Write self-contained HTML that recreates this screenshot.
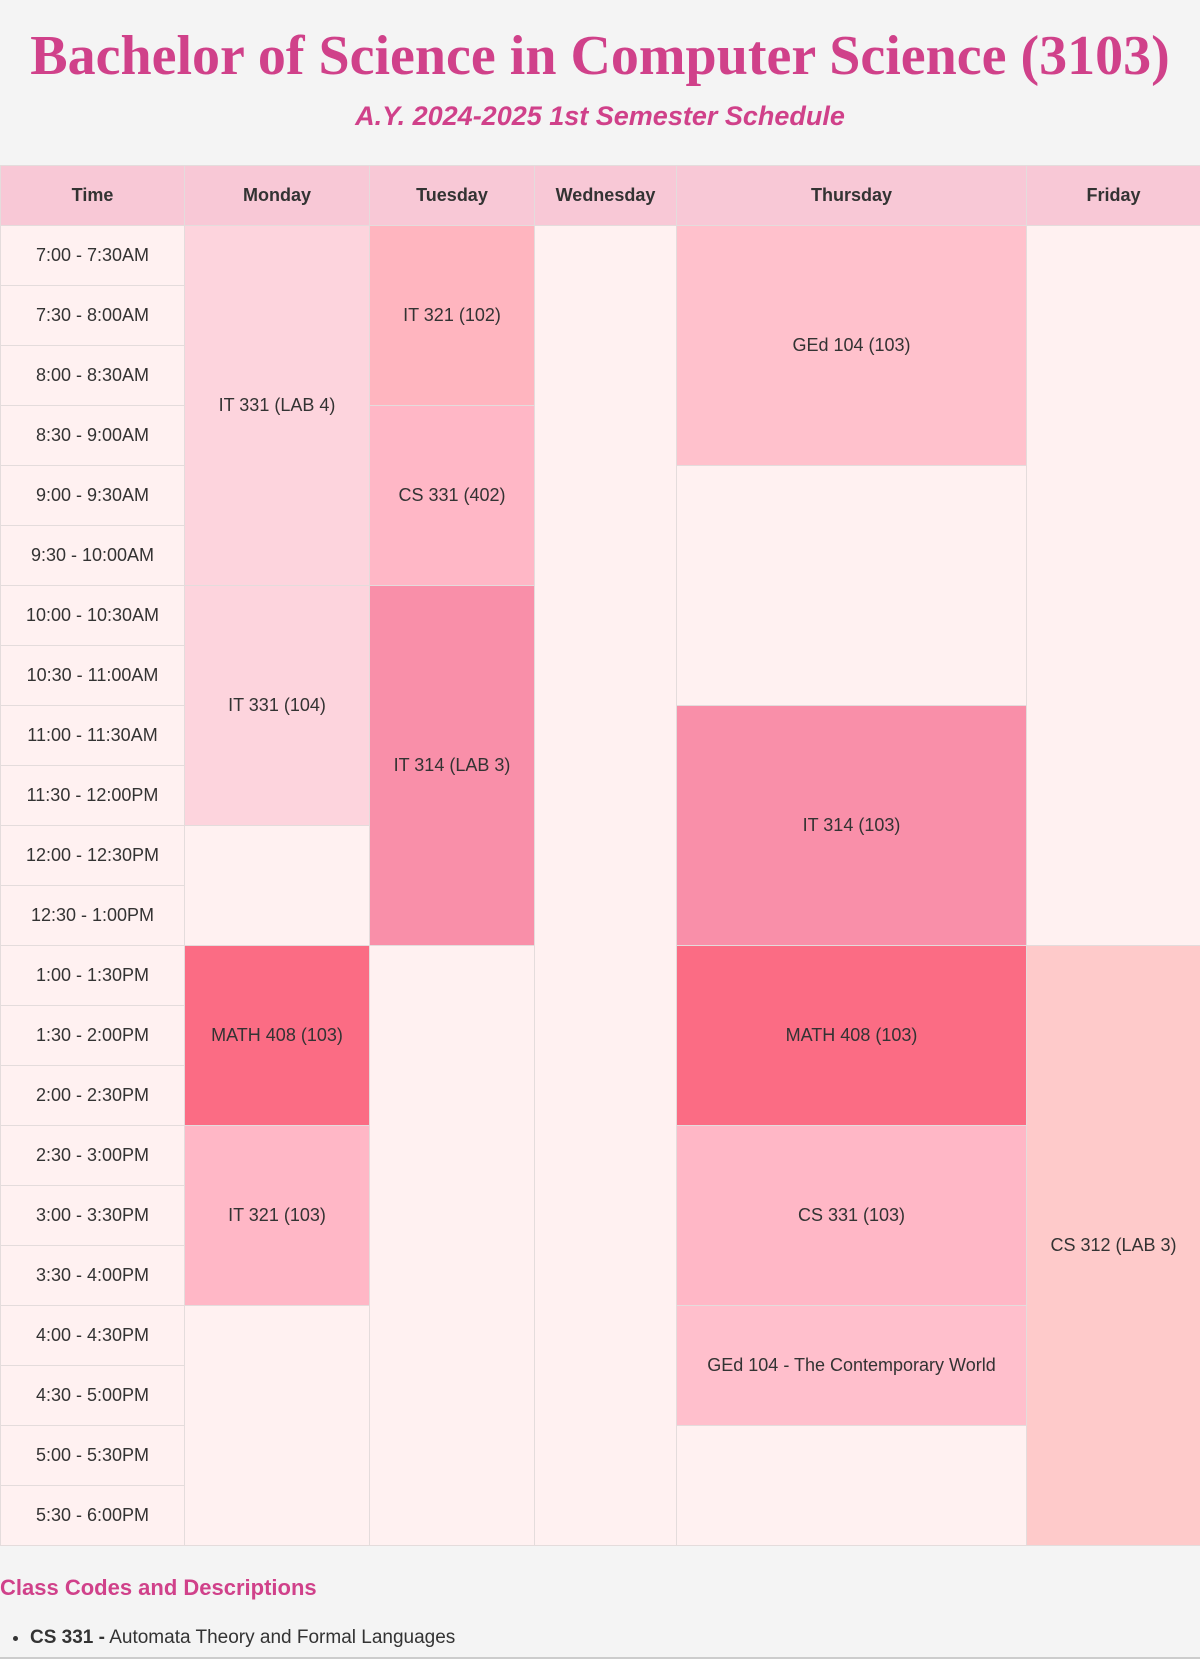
<!DOCTYPE html>
<html><head><meta charset="utf-8"><style>
body{margin:0;background:#f4f4f4;font-family:"Liberation Sans",sans-serif;color:#333;width:1200px;height:1659px;overflow:hidden;position:relative}
h1{position:absolute;top:22px;left:0;width:1200px;margin:0;text-align:center;font-family:"Liberation Serif",serif;font-weight:bold;font-size:56px;color:#d0418a;line-height:68px}
h2{position:absolute;top:98px;left:0;width:1200px;margin:0;text-align:center;font-style:italic;font-weight:bold;font-size:27px;color:#d0418a;line-height:36px}
table{position:absolute;top:165px;left:0;width:1200px;border-collapse:collapse;table-layout:fixed}
td,th{border:1px solid #e4dcdc;text-align:center;font-size:18px;padding:0}
th{height:59px;background:#f8c8d6;font-weight:bold;color:#333}
td{height:59px;background:#fff1f1}
.a{background:#fdd4dd}.b{background:#ffb5bf}.c{background:#ffb7c6}.d{background:#f98fa9}.e{background:#fb6c84}.f{background:#ffc1cc}.g{background:#fecaca}.h{background:#ffbfcc}
.cc{position:absolute;top:1575px;left:0;margin:0;font-size:22px;font-weight:bold;color:#d0418a}
ul{position:absolute;top:1626px;left:0;margin:0;padding-left:30px;font-size:19px;line-height:24px}
.bl{position:absolute;top:1657px;left:0;width:1200px;height:2px;background:#ccc}
</style></head><body>
<h1>Bachelor of Science in Computer Science (3103)</h1>
<h2>A.Y. 2024-2025 1st Semester Schedule</h2>
<table>
<colgroup><col style="width:184px"><col style="width:185px"><col style="width:165px"><col style="width:142px"><col style="width:350px"><col style="width:174px"></colgroup>
<tr><th>Time</th><th>Monday</th><th>Tuesday</th><th>Wednesday</th><th>Thursday</th><th>Friday</th></tr>
<tr><td>7:00 - 7:30AM</td><td class="a" rowspan="6">IT 331 (LAB 4)</td><td class="b" rowspan="3">IT 321 (102)</td><td rowspan="22"></td><td class="f" rowspan="4">GEd 104 (103)</td><td rowspan="12"></td></tr>
<tr><td>7:30 - 8:00AM</td></tr>
<tr><td>8:00 - 8:30AM</td></tr>
<tr><td>8:30 - 9:00AM</td><td class="c" rowspan="3">CS 331 (402)</td></tr>
<tr><td>9:00 - 9:30AM</td><td rowspan="4"></td></tr>
<tr><td>9:30 - 10:00AM</td></tr>
<tr><td>10:00 - 10:30AM</td><td class="a" rowspan="4">IT 331 (104)</td><td class="d" rowspan="6">IT 314 (LAB 3)</td></tr>
<tr><td>10:30 - 11:00AM</td></tr>
<tr><td>11:00 - 11:30AM</td><td class="d" rowspan="4">IT 314 (103)</td></tr>
<tr><td>11:30 - 12:00PM</td></tr>
<tr><td>12:00 - 12:30PM</td><td rowspan="2"></td></tr>
<tr><td>12:30 - 1:00PM</td></tr>
<tr><td>1:00 - 1:30PM</td><td class="e" rowspan="3">MATH 408 (103)</td><td rowspan="10"></td><td class="e" rowspan="3">MATH 408 (103)</td><td class="g" rowspan="10">CS 312 (LAB 3)</td></tr>
<tr><td>1:30 - 2:00PM</td></tr>
<tr><td>2:00 - 2:30PM</td></tr>
<tr><td>2:30 - 3:00PM</td><td class="c" rowspan="3">IT 321 (103)</td><td class="c" rowspan="3">CS 331 (103)</td></tr>
<tr><td>3:00 - 3:30PM</td></tr>
<tr><td>3:30 - 4:00PM</td></tr>
<tr><td>4:00 - 4:30PM</td><td rowspan="4"></td><td class="h" rowspan="2">GEd 104 - The Contemporary World</td></tr>
<tr><td>4:30 - 5:00PM</td></tr>
<tr><td>5:00 - 5:30PM</td><td rowspan="2"></td></tr>
<tr><td>5:30 - 6:00PM</td></tr>
</table>
<p class="cc">Class Codes and Descriptions</p>
<ul><li><b>CS 331 -</b> Automata Theory and Formal Languages</li></ul>
<div class="bl"></div>
</body></html>
